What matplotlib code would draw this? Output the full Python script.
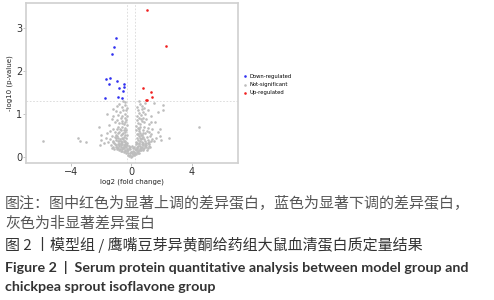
import matplotlib.pyplot as plt

# significant proteins
down_x = [-1.0, -1.13, -1.27, -1.67, -1.42, -1.47, -0.96, -0.51, -0.47, -0.8, -0.58, -0.91, -0.6, -1.73]
down_y = [2.76, 2.55, 2.39, 1.81, 1.84, 1.69, 1.77, 1.70, 1.62, 1.60, 1.54, 1.40, 1.36, 1.36]
up_x = [1.07, 2.33, 0.78, 1.29, 1.4, 0.96, 1.04]
up_y = [3.41, 2.57, 1.60, 1.50, 1.40, 1.33, 1.33]

# non-significant proteins (x, y pairs)
ns_pts = [
    (0.05, 0.02), (-0.1, 0.05), (0.15, 0.06), (-0.2, 0.08), (0.25, 0.1), (0.02, 0.09), (-0.05, 0.12),
    (0.1, 0.14), (-0.3, 0.13), (0.35, 0.12), (-0.15, 0.03), (0.2, 0.04), (-0.25, 0.15), (0.3, 0.16),
    (0.0, 0.11), (-0.08, 0.18), (0.12, 0.2), (-0.38, 0.1), (0.42, 0.08), (-0.18, 0.21), (0.22, 0.19),
    (-0.02, 0.0), (0.08, 0.07), (-0.12, 0.1), (0.18, 0.11), (-0.22, 0.05), (0.28, 0.06), (-0.32, 0.18),
    (0.38, 0.2), (-0.44, 0.14), (0.48, 0.16), (-0.06, 0.22), (0.06, 0.25), (-0.16, 0.26), (0.16, 0.24),
    (-0.4, 0.17), (-0.55, 0.2), (-0.7, 0.22), (-0.85, 0.25), (-1.0, 0.27), (-1.2, 0.24), (-0.5, 0.28),
    (-0.35, 0.22), (-0.65, 0.3), (-0.95, 0.19), (-1.35, 0.28), (-0.8, 0.16), (-1.1, 0.3), (-0.45, 0.25),
    (-0.6, 0.14), (-0.75, 0.19), (-0.9, 0.29), (-1.05, 0.22), (-0.28, 0.27), (-0.52, 0.12),
    (-0.58, 0.24), (-0.72, 0.27), (-0.88, 0.21), (-1.15, 0.18), (-1.28, 0.2), (-0.62, 0.18),
    (-0.48, 0.21), (-0.8, 0.29), (-0.98, 0.24), (-0.36, 0.29), (-0.68, 0.13),
    (0.4, 0.18), (0.55, 0.21), (0.7, 0.24), (0.85, 0.2), (1.0, 0.27), (1.15, 0.29), (0.5, 0.29),
    (0.35, 0.24), (0.65, 0.17), (0.9, 0.3), (1.25, 0.22), (0.75, 0.28), (0.45, 0.14), (0.6, 0.26),
    (0.8, 0.15), (1.08, 0.2), (0.3, 0.29), (0.95, 0.23), (0.52, 0.1), (0.62, 0.2), (0.74, 0.18),
    (0.88, 0.26), (1.2, 0.26), (0.42, 0.26), (0.56, 0.16), (1.02, 0.17), (0.68, 0.29),
    (-0.3, 0.33), (-0.45, 0.38), (-0.6, 0.35), (-0.75, 0.42), (-0.9, 0.36), (-1.05, 0.44), (-1.2, 0.38),
    (-1.4, 0.41), (-1.55, 0.35), (-1.7, 0.45), (-0.5, 0.47), (-0.7, 0.5), (-0.95, 0.48), (-1.3, 0.49),
    (-0.35, 0.45), (-1.85, 0.32), (-1.15, 0.33), (-0.82, 0.31), (-0.55, 0.41), (-0.68, 0.37),
    (-1.0, 0.4), (-0.4, 0.31), (-0.62, 0.45), (-0.8, 0.38), (-1.1, 0.47), (-0.45, 0.34),
    (-0.72, 0.33), (-0.88, 0.44), (-1.25, 0.34), (-0.52, 0.36),
    (0.3, 0.34), (0.42, 0.4), (0.58, 0.36), (0.72, 0.44), (0.88, 0.38), (1.02, 0.46), (1.18, 0.34),
    (1.35, 0.42), (1.5, 0.37), (0.5, 0.48), (0.65, 0.5), (0.95, 0.32), (1.25, 0.49), (0.38, 0.45),
    (1.62, 0.44), (0.8, 0.47), (0.62, 0.42), (1.1, 0.39), (0.48, 0.33), (0.7, 0.35), (0.55, 0.44),
    (0.85, 0.42), (1.08, 0.33), (0.4, 0.32), (0.78, 0.32), (1.28, 0.36),
    (-0.3, 0.52), (-0.42, 0.58), (-0.55, 0.55), (-0.68, 0.62), (-0.82, 0.57), (-0.98, 0.64),
    (-1.12, 0.58), (-1.25, 0.66), (-1.45, 0.6), (-0.4, 0.68), (-0.6, 0.7), (-0.88, 0.7), (-1.6, 0.55),
    (-0.33, 0.63), (-1.05, 0.52), (-0.75, 0.66), (-0.5, 0.62), (-0.65, 0.53), (-0.92, 0.55),
    (-0.45, 0.52),
    (0.35, 0.53), (0.48, 0.6), (0.6, 0.56), (0.75, 0.63), (0.9, 0.55), (1.05, 0.61), (1.2, 0.57),
    (1.4, 0.65), (0.42, 0.68), (0.58, 0.7), (0.82, 0.69), (1.1, 0.68), (0.3, 0.62), (0.68, 0.52),
    (1.3, 0.53), (0.52, 0.64), (0.8, 0.56), (0.45, 0.54),
    (-0.28, 0.74), (-0.4, 0.8), (-0.52, 0.76), (-0.65, 0.84), (-0.8, 0.78), (-0.95, 0.86), (-1.1, 0.8),
    (-1.3, 0.88), (-0.45, 0.9), (-0.7, 0.9), (-0.35, 0.85), (-1.5, 0.75), (-0.6, 0.78),
    (0.32, 0.73), (0.45, 0.79), (0.58, 0.76), (0.7, 0.84), (0.85, 0.8), (1.0, 0.87), (1.15, 0.77),
    (0.5, 0.9), (0.38, 0.86), (0.78, 0.91), (1.3, 0.82), (0.62, 0.88),
    (-0.3, 0.94), (-0.45, 1.0), (-0.6, 0.96), (-0.75, 1.04), (-0.9, 0.98), (-1.05, 1.06), (-0.38, 1.08),
    (-0.55, 1.1), (-1.2, 0.95), (-1.65, 1.0),
    (0.35, 0.95), (0.5, 1.02), (0.62, 0.97), (0.78, 1.05), (0.92, 0.99), (1.1, 1.08), (0.45, 1.1),
    (0.7, 1.12), (1.3, 0.96), (1.75, 1.05),
    (-0.3, 1.14), (-0.45, 1.2), (-0.62, 1.16), (-0.8, 1.24), (-0.95, 1.18), (-0.4, 1.28), (-0.58, 1.3),
    (-1.2, 1.12),
    (0.4, 1.15), (0.55, 1.22), (0.72, 1.18), (0.9, 1.26), (0.5, 1.3), (1.5, 1.26), (2.07, 1.2),
    (2.13, 1.1), (0.85, 1.14),
    (-5.9, 0.37), (-3.58, 0.44), (-3.4, 0.37), (-3.05, 0.35), (4.53, 0.69), (-2.18, 0.69), (-2.05, 0.4),
    (-2.0, 0.5), (1.76, 0.59), (1.9, 0.48), (2.0, 0.4), (2.49, 0.43), (1.93, 0.66), (-2.1, 0.28),
    (1.6, 0.8),
]
ns_x = [p[0] for p in ns_pts]
ns_y = [p[1] for p in ns_pts]

fc_cut = 0.263
p_cut = 1.301

legend_labels = ["Down-regulated", "Not-significant", "Up-regulated"]
caption_cn = [
    "图注：图中红色为显著上调的差异蛋白，蓝色为显著下调的差异蛋白，",
    "灰色为非显著差异蛋白",
]
title_cn = "图 2 丨模型组 / 鹰嘴豆芽异黄酮给药组大鼠血清蛋白质定量结果"
title_en = [
    "Figure 2  |  Serum protein quantitative analysis between model group and",
    "chickpea sprout isoflavone group",
]

fig = plt.figure(figsize=(4.94, 3.0), dpi=100)
ax = fig.add_axes([0.053, 0.457, 0.429, 0.533])

ax.scatter(ns_x, ns_y, s=3.5, color="#BDBDBD", linewidths=0, label=legend_labels[1], zorder=2)
ax.scatter(down_x, down_y, s=3.5, color="#3030F0", linewidths=0, label=legend_labels[0], zorder=3)
ax.scatter(up_x, up_y, s=3.5, color="#F02020", linewidths=0, label=legend_labels[2], zorder=3)

for v in (-fc_cut, fc_cut):
    ax.axvline(v, color="#D8D8D8", lw=0.6, ls=(0, (2, 2)), zorder=1)
ax.axhline(p_cut, color="#D8D8D8", lw=0.6, ls=(0, (2, 2)), zorder=1)

ax.set_xlim(-7.0, 7.1)
ax.set_ylim(-0.14, 3.58)
ax.set_xticks([-4, 0, 4])
ax.set_yticks([0, 1, 2, 3])
ax.tick_params(labelsize=7, length=2, width=0.6, color="#BBBBBB", labelcolor="#333333", pad=1)
for s in ax.spines.values():
    s.set_color("#D0D0D0")
    s.set_linewidth(1.2)
ax.set_xlabel("log2 (fold change)", fontsize=5, labelpad=1, color="#222222")
ax.set_ylabel("-log10 (p-value)", fontsize=5, labelpad=2, color="#222222")

h, l = ax.get_legend_handles_labels()
order = [1, 0, 2]
ax.legend([h[i] for i in order], [l[i] for i in order], loc="center left",
          bbox_to_anchor=(1.0, 0.49), frameon=False, fontsize=3.8,
          handletextpad=0.2, labelspacing=0.6, markerscale=1.0, handlelength=1.0)

cn = ["Noto Sans CJK SC", "DejaVu Sans"]
fig.text(0.01, 1 - 203 / 300, caption_cn[0], family=cn, fontsize=10.8, color="#555555", va="center")
fig.text(0.01, 1 - 223 / 300, caption_cn[1], family=cn, fontsize=10.8, color="#555555", va="center")
fig.text(0.01, 1 - 245 / 300, title_cn, family=cn, fontsize=10.8, color="#333333", va="center")
fig.text(0.01, 1 - 267 / 300, title_en[0], family=["Lato", "DejaVu Sans"], fontsize=10.3,
         weight="bold", color="#333333", va="center")
fig.text(0.01, 1 - 287 / 300, title_en[1], family=["Lato", "DejaVu Sans"], fontsize=10.3,
         weight="bold", color="#333333", va="center")

fig.savefig("out.png", dpi=100)
